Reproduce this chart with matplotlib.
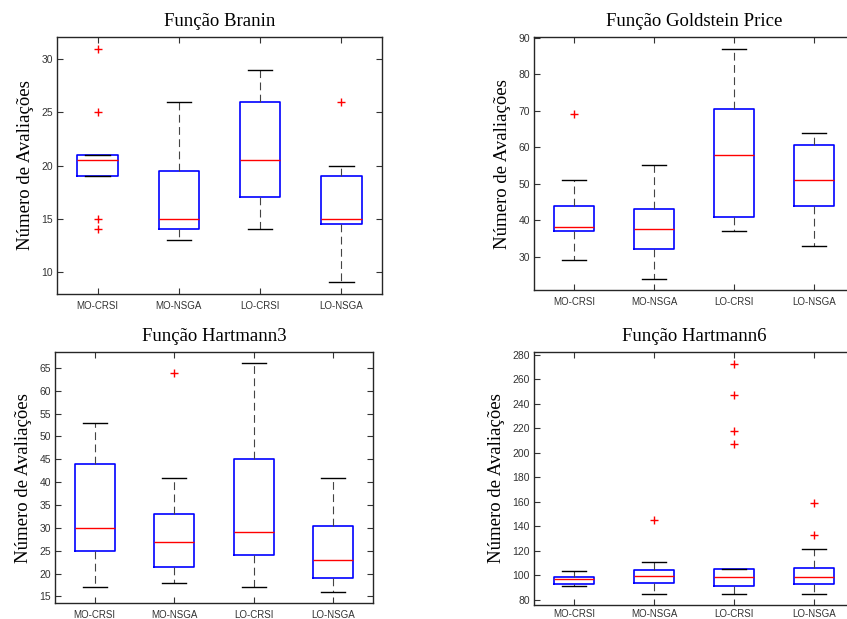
import matplotlib
matplotlib.use('Agg')
import matplotlib.pyplot as plt

CATEGORIES = ['MO-CRSI', 'MO-NSGA', 'LO-CRSI', 'LO-NSGA']
YLABEL = 'Número de Avaliações'

# ── Box statistics per test function (q1, median, q3, whiskers, outliers) ─────

BRANIN_Q1 = [19, 14, 17, 14.5]
BRANIN_MED = [20.5, 15, 20.5, 15]
BRANIN_Q3 = [21, 19.5, 26, 19]
BRANIN_LO = [19, 13, 14, 9]
BRANIN_HI = [21, 26, 29, 20]
BRANIN_OUT = [[31, 25, 15, 14], [], [], [26]]

GOLD_Q1 = [37, 32, 41, 44]
GOLD_MED = [38, 37.5, 58, 51]
GOLD_Q3 = [44, 43, 70.5, 60.5]
GOLD_LO = [29, 24, 37, 33]
GOLD_HI = [51, 55, 87, 64]
GOLD_OUT = [[69], [], [], []]

H3_Q1 = [25, 21.5, 24, 19]
H3_MED = [30, 27, 29, 23]
H3_Q3 = [44, 33, 45, 30.5]
H3_LO = [17, 18, 17, 16]
H3_HI = [53, 41, 66, 41]
H3_OUT = [[], [64], [], []]

H6_Q1 = [92.5, 94, 91.5, 92.5]
H6_MED = [97, 99, 98.5, 98.5]
H6_Q3 = [98.5, 104, 105, 106]
H6_LO = [91, 85, 85, 85]
H6_HI = [103, 111, 105, 121]
H6_OUT = [[], [145], [273, 247, 218, 207], [159, 133]]

# title, stats..., axes rect, y ticks, x tick label pad
PANELS = [
    ('Função Branin', BRANIN_Q1, BRANIN_MED, BRANIN_Q3, BRANIN_LO, BRANIN_HI, BRANIN_OUT,
     [0.0673, 0.525, 0.3837, 0.4152], [10, 15, 20, 25, 30], 5),
    ('Função Goldstein Price', GOLD_Q1, GOLD_MED, GOLD_Q3, GOLD_LO, GOLD_HI, GOLD_OUT,
     [0.6305, 0.5315, 0.3778, 0.4082], [30, 40, 50, 60, 70, 80, 90], 5),
    ('Função Hartmann3', H3_Q1, H3_MED, H3_Q3, H3_LO, H3_HI, H3_OUT,
     [0.0649, 0.0254, 0.3754, 0.406], list(range(15, 70, 5)), 5),
    ('Função Hartmann6', H6_Q1, H6_MED, H6_Q3, H6_LO, H6_HI, H6_OUT,
     [0.6305, 0.0226, 0.3778, 0.4087], list(range(80, 300, 20)), 3),
]

SANS = ['Liberation Sans', 'DejaVu Sans']
SERIF = ['Liberation Serif', 'DejaVu Serif']


def draw_panel(fig, title, q1, med, q3, lo, hi, out, rect, yticks, xpad):
    ax = fig.add_axes(rect)
    stats = []
    for i, name in enumerate(CATEGORIES):
        stats.append(dict(label=name, q1=q1[i], med=med[i], q3=q3[i],
                          whislo=lo[i], whishi=hi[i], fliers=out[i]))
    ax.bxp(stats, positions=range(1, 5), widths=0.5, capwidths=0.3,
           boxprops=dict(color='#0000ff', lw=1.2),
           medianprops=dict(color='#ff0000', lw=1.0),
           whiskerprops=dict(color='#444444', lw=0.8, ls=(0, (7, 4))),
           capprops=dict(color='black', lw=1.0),
           flierprops=dict(marker='+', markeredgecolor='#ff0000',
                           markersize=5.5, markeredgewidth=1.0, linestyle='none'))

    # MATLAB-style y-limits: data range padded by 5 %
    allv = lo + hi + [v for o in out for v in o]
    vmin, vmax = min(allv), max(allv)
    pad = 0.05 * (vmax - vmin)
    ax.set_ylim(vmin - pad, vmax + pad)
    ax.set_xlim(0.5, 4.5)
    ax.set_yticks(yticks)
    ax.set_xticks(range(1, 5))
    ax.set_xticklabels(CATEGORIES)
    ax.tick_params(direction='in', length=4, width=0.8, top=True, right=True,
                   colors='#333333')
    ax.tick_params(axis='x', labelsize=7, pad=xpad)
    ax.tick_params(axis='y', labelsize=7.5, pad=3)
    for lab in ax.get_xticklabels() + ax.get_yticklabels():
        lab.set_family(SANS)
    for s in ax.spines.values():
        s.set_linewidth(1.0)
        s.set_color('#262626')
    ax.set_title(title, family=SERIF, fontsize=13.5, pad=8)
    ax.set_ylabel(YLABEL, family=SERIF, fontsize=13.5, labelpad=5)
    return ax


def main():
    fig = plt.figure(figsize=(8.47, 6.19), dpi=100)
    for p in PANELS:
        draw_panel(fig, *p)
    fig.savefig('out.png', dpi=100)
    plt.close(fig)


if __name__ == '__main__':
    main()
